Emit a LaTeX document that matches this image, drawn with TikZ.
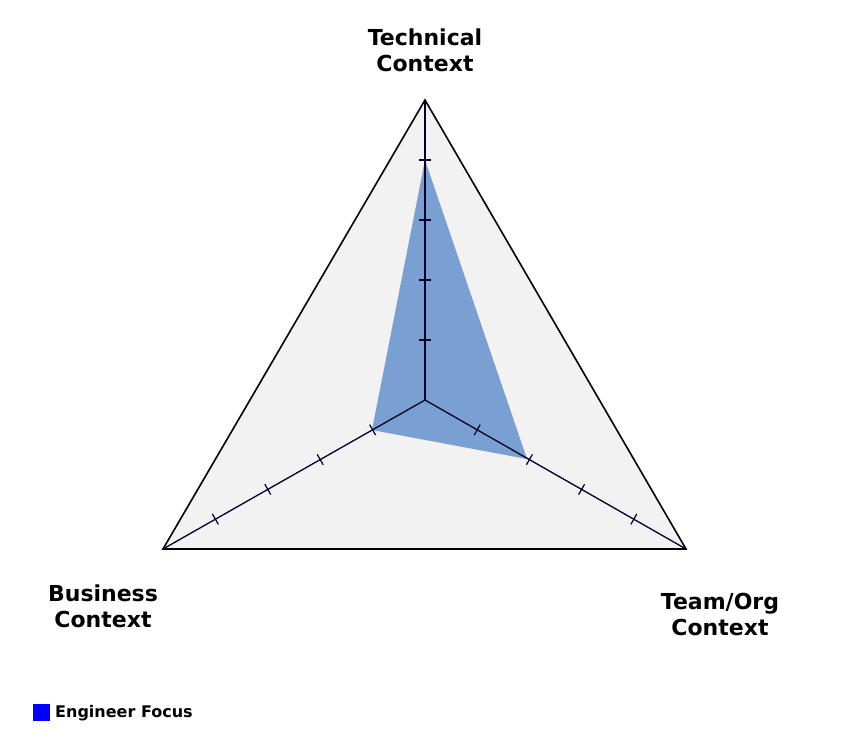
\documentclass[tikz,border=0pt]{standalone}
\usepackage{fontspec}
\setmainfont{DejaVu Sans}
\usetikzlibrary{calc}
\definecolor{focus}{HTML}{7A9FD2}
\begin{document}
\begin{tikzpicture}[x=1pt,y=-1pt,
  lab/.style={font=\bfseries\fontsize{22}{26}\selectfont,align=center},
  tick/.style={line width=1.2pt,black!85!blue}]
\useasboundingbox (0,0) rectangle (850,750);
\coordinate (C) at (425,400);
\coordinate (T) at (425,100);
\coordinate (L) at (163,549);
\coordinate (R) at (686,549);
\fill[gray!10] (T)--(R)--(L)--cycle;
\fill[focus] (425,160)--(527,459)--(372,430)--cycle;
\foreach \v in {T,L,R}{
  \draw[line width=1.3pt,black!85!blue] (C)--(\v);
  \foreach \f in {0.2,0.4,0.6,0.8}{
    \path ($(C)!\f!(\v)$) coordinate (p);
    \draw[tick] ($(p)!6pt!90:(\v)$)--($(p)!6pt!-90:(\v)$);
  }
}
\draw[line width=1.6pt,line join=miter] (T)--(R)--(L)--cycle;
\node[lab] (tl) at (425,50) {Technical\\Context};
\node[lab] (bl) at (103,606) {Business\\Context};
\node[lab] (rl) at (720,614) {Team/Org\\Context};
\fill[blue] (33,704) rectangle (50,721);
\node[anchor=west,font=\bfseries\fontsize{16}{18}\selectfont,inner sep=0] (lg) at (55,713) {Engineer Focus};
\end{tikzpicture}
\end{document}
